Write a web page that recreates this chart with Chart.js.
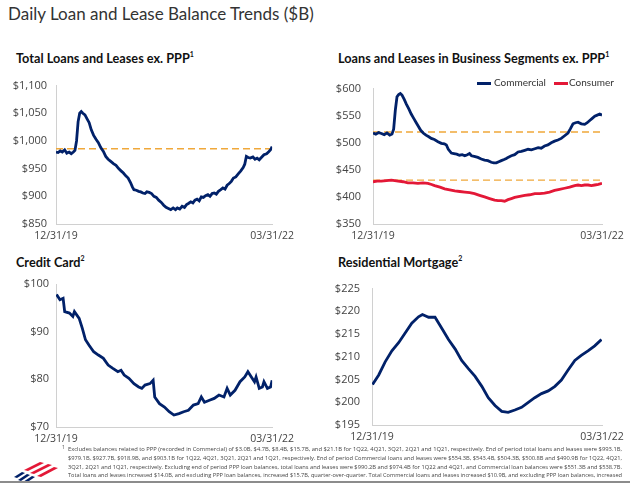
<!DOCTYPE html>
<html lang="en">
<head>
<meta charset="UTF-8">
<title>Daily Loan and Lease Balance Trends ($B)</title>
<script src="https://cdn.jsdelivr.net/npm/chart.js"></script>
<style>
  body { margin: 0; background: #fff; font-family: 'Open Sans', sans-serif; }
  #page { position: relative; width: 630px; height: 485px; overflow: hidden; }
  h1 {
    position: absolute; left: 8px; top: 3px; margin: 0;
    font-family: Lato, sans-serif; font-weight: normal; font-size: 17px; color: #333;
    white-space: nowrap;
  }
  .ctitle {
    position: absolute; margin: 0; white-space: nowrap;
    font-family: Lato, sans-serif; font-weight: bold; font-size: 12.7px; color: #111;
  }
  .ctitle sup { font-size: 7px; vertical-align: 6px; line-height: 0; }
  .box { position: absolute; }
  .mk { position: absolute; width: 14px; height: 3px; }
  .lg { position: absolute; font-family: Lato, sans-serif; font-size: 10px; color: #333; white-space: nowrap; }
  #foot {
    position: absolute; left: 68px; top: 445px; width: 554px;
    font-size: 6px; line-height: 8.8px; color: #444;
  }
  #foot div { white-space: nowrap; }
  #foot div span { display: inline-block; transform-origin: 0 0; }
  #foot sup { position: absolute; left: -6px; top: -2px; font-size: 5px; }
  #rule { position: absolute; left: 0; top: 481px; width: 630px; height: 2px; background: #8c8c8c; }
  #logo { position: absolute; left: 10px; top: 460px; }
</style>
</head>
<body>
<div id="page">
  <h1>Daily Loan and Lease Balance Trends ($B)</h1>

  <div class="ctitle" style="left:16px; top:50px;">Total Loans and Leases ex. PPP<sup>1</sup></div>
  <div class="ctitle" style="left:338px; top:50px;">Loans and Leases in Business Segments ex. PPP<sup>1</sup></div>
  <div class="ctitle" style="left:16px; top:254px;">Credit Card<sup>2</sup></div>
  <div class="ctitle" style="left:338px; top:254px;">Residential Mortgage<sup>2</sup></div>

  <div class="box" style="left:0; top:70px;"><canvas id="c1" width="300" height="176"></canvas></div>
  <div class="box" style="left:315px; top:70px;"><canvas id="c2" width="315" height="176"></canvas></div>
  <div class="box" style="left:0; top:270px;"><canvas id="c3" width="300" height="179"></canvas></div>
  <div class="box" style="left:315px; top:270px;"><canvas id="c4" width="315" height="177"></canvas></div>

  <div class="mk" style="left:477px; top:82px; background:#012169"></div>
  <div class="lg" style="left:494px; top:76px;">Commercial</div>
  <div class="mk" style="left:554px; top:82px; background:#e31837"></div>
  <div class="lg" style="left:569px; top:76px;">Consumer</div>

  <svg id="logo" width="50" height="24" viewBox="0 0 50 24">
    <g fill="#e31837">
      <polygon points="14,10 30,2 34,3 18,11"/>
      <polygon points="20,13 38,4 42,5 24,14"/>
      <polygon points="27,16 44,7 48,8 31,17"/>
    </g>
    <g fill="#012169">
      <polygon points="4,17 12,12 15,13 7,18"/>
      <polygon points="8,20 17,14 20,15 11,21"/>
      <polygon points="13,22 22,16 25,17 16,23"/>
    </g>
  </svg>

  <div id="foot">
    <sup>1</sup>
    <div><span>Excludes balances related to PPP (recorded in Commercial) of $3.0B, $4.7B, $8.4B, $15.7B, and $21.1B for 1Q22, 4Q21, 3Q21, 2Q21 and 1Q21, respectively. End of period total loans and leases were $993.1B,</span></div>
    <div><span>$979.1B, $927.7B, $918.9B, and $903.1B for 1Q22, 4Q21, 3Q21, 2Q21 and 1Q21, respectively. End of period Commercial loans and leases were $554.3B, $543.4B, $504.3B, $500.8B and $490.9B for 1Q22, 4Q21,</span></div>
    <div><span>3Q21, 2Q21 and 1Q21, respectively. Excluding end of period PPP loan balances, total loans and leases were $990.2B and $974.4B for 1Q22 and 4Q21, and Commercial loan balances were $551.3B and $538.7B.</span></div>
    <div><span>Total loans and leases increased $14.0B, and excluding PPP loan balances, increased $15.7B, quarter-over-quarter. Total Commercial loans and leases increased $10.9B, and excluding PPP loan balances, increased</span></div>
  </div>
  <div id="rule"></div>
</div>

<script>
// x positions are days since 12/31/19 (last point 03/31/22)
const dateTicks = ['12/31/19', '03/31/22'];
const lastDay = 821;

const totalDays = [0, 8, 16, 24, 33, 41, 50, 58, 66, 72, 78, 84, 90, 96, 102, 110, 118, 126, 134, 143, 152, 161, 170, 180, 189, 198, 208, 218, 228, 238, 247, 256, 265, 274, 283, 290, 296, 305, 314, 322, 330, 338, 345, 354, 363, 372, 381, 390, 400, 409, 418, 427, 436, 445, 454, 461, 470, 479, 488, 496, 503, 512, 520, 528, 536, 544, 552, 560, 568, 577, 585, 593, 601, 609, 617, 626, 634, 642, 650, 658, 666, 674, 683, 693, 702, 711, 717, 723, 730, 738, 748, 756, 764, 772, 780, 790, 800, 809, 815, 821];
const totalVals = [980, 979, 982, 980, 984, 978, 980, 977, 980, 983, 1000, 1035, 1050, 1053, 1050, 1047, 1040, 1033, 1020, 1010, 1003, 997, 988, 981, 972, 967, 963, 959, 956, 950, 946, 942, 937, 933, 925, 917, 912, 911, 909, 908, 906, 905, 908, 907, 905, 900, 898, 893, 889, 884, 880, 878, 876, 879, 876, 879, 877, 882, 880, 885, 887, 890, 888, 893, 895, 892, 899, 898, 901, 903, 900, 905, 906, 904, 909, 912, 915, 913, 920, 923, 927, 933, 935, 941, 946, 952, 958, 972, 970, 969, 971, 967, 969, 966, 970, 975, 977, 981, 984, 990];
const totalRef = 986;

const commDays = [0, 10, 20, 30, 40, 50, 60, 68, 74, 80, 86, 92, 98, 104, 112, 120, 128, 137, 146, 155, 163, 171, 180, 190, 200, 209, 220, 233, 245, 256, 263, 270, 281, 290, 300, 310, 320, 329, 338, 346, 353, 363, 376, 388, 400, 412, 424, 433, 442, 451, 460, 470, 478, 484, 496, 508, 520, 532, 544, 556, 568, 580, 592, 603, 615, 627, 639, 651, 663, 675, 687, 699, 708, 717, 726, 735, 747, 759, 768, 777, 786, 795, 804, 813, 821];
const commVals = [518, 516, 519, 517, 515, 518, 514, 516, 525, 560, 585, 589, 591, 588, 580, 571, 563, 553, 545, 537, 530, 523, 518, 514, 511, 508, 506, 502, 499, 498, 496, 488, 481, 480, 479, 477, 478, 476, 478, 480, 476, 475, 473, 470, 468, 467, 464, 463, 463, 465, 467, 469, 471, 473, 476, 478, 483, 484, 486, 488, 487, 489, 491, 490, 494, 496, 500, 503, 505, 508, 513, 518, 526, 535, 537, 538, 535, 534, 537, 541, 545, 549, 551, 553, 551];
const commRef = 520;

const consDays = [0, 15, 30, 48, 66, 78, 90, 108, 125, 143, 161, 179, 197, 210, 221, 240, 257, 275, 293, 311, 329, 347, 364, 382, 400, 418, 436, 448, 460, 472, 484, 496, 508, 526, 544, 562, 580, 598, 615, 633, 651, 669, 687, 705, 723, 735, 747, 759, 771, 783, 795, 808, 821];
const consVals = [428, 429, 429, 430, 431, 430, 429, 428, 426, 426, 425, 426, 425, 423, 421, 418, 415, 413, 411, 410, 409, 408, 406, 403, 400, 397, 394, 393, 393, 392, 395, 397, 399, 401, 403, 404, 406, 406, 407, 409, 412, 414, 416, 418, 421, 422, 421, 422, 422, 421, 422, 423, 425];
const consRef = 431;

const cardDays = [2, 15, 27, 33, 51, 64, 70, 88, 100, 112, 125, 143, 161, 180, 198, 216, 235, 247, 259, 277, 296, 314, 326, 338, 357, 369, 375, 393, 412, 430, 448, 467, 485, 503, 522, 540, 552, 564, 583, 601, 619, 638, 650, 662, 680, 699, 717, 729, 742, 754, 760, 772, 784, 790, 803, 815, 821];
const cardVals = [97.8, 96.7, 97.0, 94.2, 93.9, 93.2, 94.2, 92.8, 90.7, 88.3, 87.2, 85.8, 85.1, 84.4, 83.0, 82.3, 81.6, 81.9, 80.9, 80.2, 79.1, 78.4, 78.1, 78.8, 79.1, 79.8, 76.3, 74.9, 74.2, 73.2, 72.5, 72.8, 73.2, 73.5, 74.6, 74.9, 76.3, 75.2, 75.6, 76.0, 76.7, 76.3, 78.1, 76.7, 77.7, 79.5, 80.5, 81.6, 80.5, 79.5, 80.5, 78.1, 78.4, 79.5, 78.1, 78.4, 79.8];

const mortDays = [2, 24, 47, 71, 95, 119, 142, 166, 180, 202, 225, 249, 273, 297, 320, 344, 368, 392, 415, 439, 463, 486, 510, 534, 558, 581, 605, 629, 653, 676, 700, 724, 747, 771, 795, 819];
const mortVals = [203.9, 206.0, 208.9, 211.3, 213.1, 215.3, 217.4, 218.8, 219.3, 218.7, 218.7, 216.3, 213.8, 211.7, 209.2, 207.4, 205.7, 203.5, 201.0, 199.3, 198.0, 197.8, 198.3, 198.9, 200.0, 201.0, 201.9, 202.5, 203.5, 204.9, 207.1, 209.2, 210.3, 211.3, 212.4, 213.8];

const navy = '#012169';
const red = '#e31837';
const gold = '#f0a83a';

function pts(days, vals) {
  return days.map((d, i) => ({ x: d, y: vals[i] }));
}

function series(days, vals, color) {
  return { data: pts(days, vals), borderColor: color, borderWidth: 2.8, pointRadius: 0, tension: 0, fill: false };
}

function refLine(v) {
  return { data: [{ x: 0, y: v }, { x: lastDay, y: v }], borderColor: gold, borderWidth: 1.4,
           borderDash: [7, 4], pointRadius: 0, fill: false };
}

function makeChart(id, datasets, y, layout) {
  new Chart(document.getElementById(id), {
    type: 'line',
    data: { datasets: datasets },
    options: {
      responsive: false,
      animation: false,
      plugins: { legend: { display: false }, tooltip: { enabled: false } },
      layout: { padding: { top: layout.top, right: layout.right, left: 0, bottom: 0 } },
      scales: {
        x: {
          type: 'linear', min: 0, max: lastDay,
          grid: { display: false, drawTicks: false },
          border: { display: true, color: '#d0d0d0', width: 1 },
          afterBuildTicks: s => { s.ticks = [{ value: 0 }, { value: lastDay }]; },
          afterFit: s => { s.height = 22; },
          ticks: {
            padding: 6, maxRotation: 0, autoSkip: false, color: '#444',
            font: { family: 'Open Sans', size: 10.5 },
            callback: v => v === 0 ? dateTicks[0] : dateTicks[1]
          }
        },
        y: {
          min: y.min, max: y.max,
          grid: { display: false, drawTicks: false },
          border: { display: true, color: '#d0d0d0', width: 1 },
          afterFit: s => { s.width = layout.yWidth; },
          ticks: {
            stepSize: y.step, padding: layout.yPad, color: '#444',
            font: { family: 'Open Sans', size: 11 },
            callback: v => '$' + v.toLocaleString('en-US')
          }
        }
      }
    }
  });
}

makeChart('c1', [series(totalDays, totalVals, navy), refLine(totalRef)],
  { min: 850, max: 1100, step: 50 }, { top: 13, right: 20, yWidth: 56, yPad: 9 });

makeChart('c2', [series(commDays, commVals, navy), series(consDays, consVals, red), refLine(commRef), refLine(consRef)],
  { min: 350, max: 600, step: 50 }, { top: 13, right: 28, yWidth: 58, yPad: 12 });

makeChart('c3', [series(cardDays, cardVals, navy)],
  { min: 70, max: 100, step: 10 }, { top: 14, right: 20, yWidth: 56, yPad: 7 });

makeChart('c4', [series(mortDays, mortVals, navy)],
  { min: 195, max: 225, step: 5 }, { top: 14, right: 28, yWidth: 57, yPad: 12 });

// squeeze each footnote line to the column width
document.querySelectorAll('#foot div span').forEach(s => {
  const k = 554 / s.getBoundingClientRect().width;
  s.style.transform = 'scaleX(' + k + ')';
});
</script>
</body>
</html>
